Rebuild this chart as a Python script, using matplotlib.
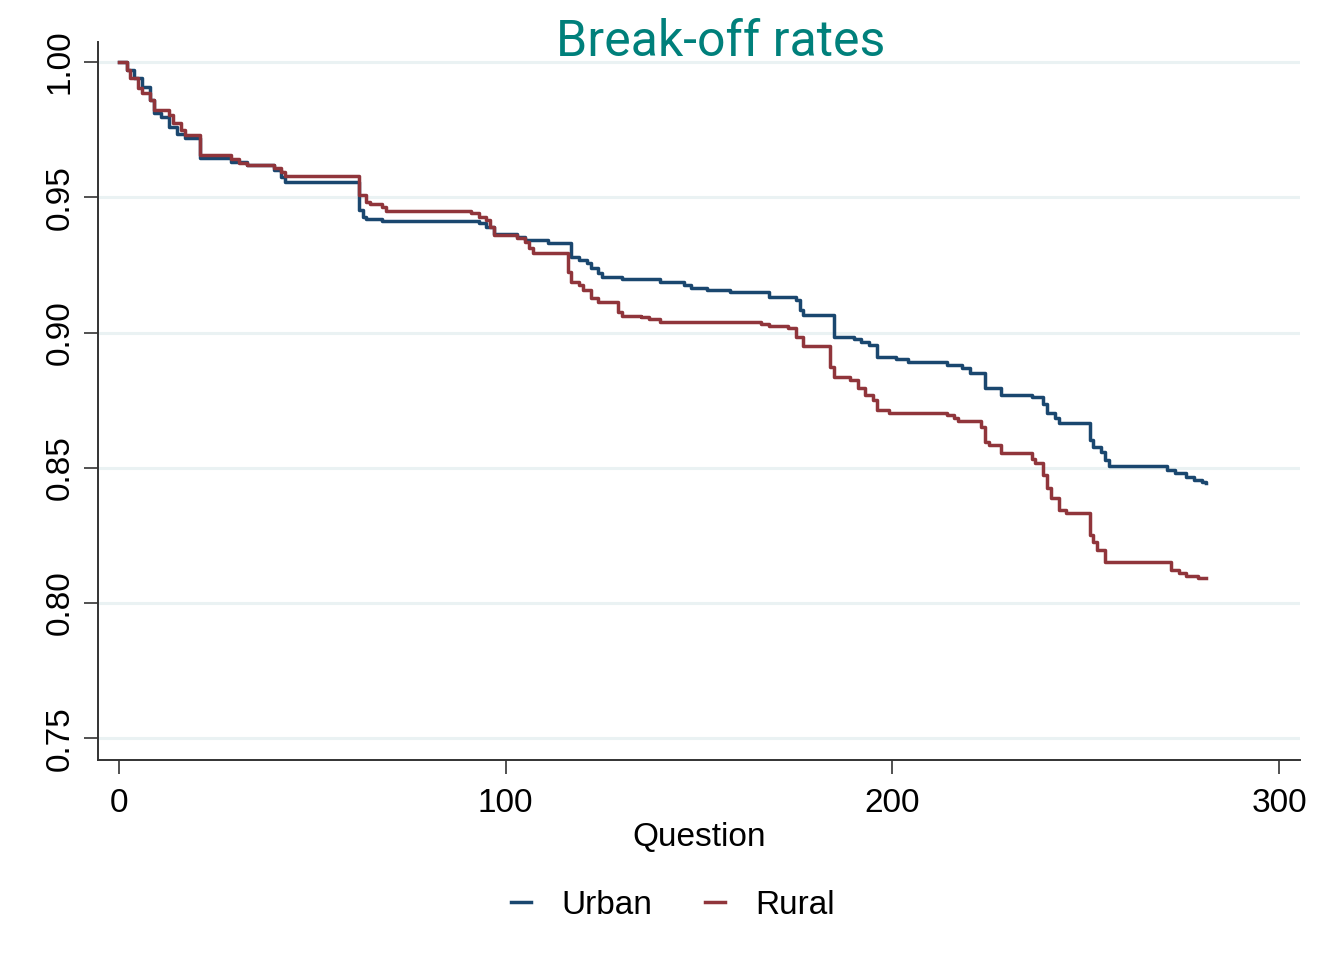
import matplotlib
matplotlib.use("Agg")
import matplotlib.pyplot as plt

# Kaplan-Meier style survival of respondents through the questionnaire
urban_q = [0, 2, 4, 6, 8, 9, 11, 13, 15, 17, 21, 29, 33, 40, 42, 43, 62, 63, 64, 68,
           93, 95, 97, 103, 105, 111, 117, 119, 121, 122, 124, 125, 130, 140, 146, 148,
           152, 158, 168, 175, 176, 177, 185, 190, 192, 194, 196, 201, 204, 214, 218,
           220, 224, 228, 236, 239, 240, 242, 243, 251, 252, 254, 255, 256, 271, 273,
           276, 278, 280, 281]
urban_s = [1.0, 0.9970, 0.9941, 0.9908, 0.9860, 0.9811, 0.9797, 0.9760, 0.9734, 0.9719,
           0.9645, 0.9630, 0.9619, 0.9601, 0.9575, 0.9556, 0.9453, 0.9427, 0.9420, 0.9412,
           0.9405, 0.9390, 0.9364, 0.9353, 0.9342, 0.9331, 0.9279, 0.9268, 0.9257, 0.9238,
           0.9220, 0.9205, 0.9198, 0.9187, 0.9176, 0.9164, 0.9157, 0.9150, 0.9131, 0.9120,
           0.9083, 0.9065, 0.8983, 0.8976, 0.8965, 0.8954, 0.8909, 0.8902, 0.8891, 0.8880,
           0.8869, 0.8850, 0.8795, 0.8769, 0.8762, 0.8736, 0.8703, 0.8684, 0.8666, 0.8603,
           0.8577, 0.8559, 0.8529, 0.8506, 0.8492, 0.8481, 0.8466, 0.8455, 0.8447, 0.8444]

rural_q = [0, 2, 3, 5, 6, 8, 9, 13, 14, 16, 17, 21, 29, 31, 33, 40, 42, 43, 62, 64, 65,
           68, 69, 91, 93, 95, 96, 97, 103, 105, 106, 107, 116, 117, 119, 120, 122, 124,
           129, 130, 135, 137, 140, 166, 168, 173, 175, 177, 184, 185, 189, 191, 193, 195,
           196, 199, 214, 216, 217, 223, 224, 225, 228, 236, 237, 239, 240, 241, 243, 245,
           251, 252, 253, 255, 272, 274, 276, 279, 281]
rural_s = [1.0, 0.9970, 0.9941, 0.9904, 0.9885, 0.9860, 0.9823, 0.9804, 0.9774, 0.9749,
           0.9730, 0.9656, 0.9641, 0.9627, 0.9619, 0.9608, 0.9593, 0.9579, 0.9508, 0.9482,
           0.9475, 0.9464, 0.9449, 0.9442, 0.9427, 0.9416, 0.9390, 0.9360, 0.9349, 0.9335,
           0.9312, 0.9294, 0.9224, 0.9187, 0.9176, 0.9157, 0.9128, 0.9113, 0.9076, 0.9061,
           0.9057, 0.9050, 0.9039, 0.9031, 0.9024, 0.9017, 0.8983, 0.8950, 0.8872, 0.8835,
           0.8824, 0.8795, 0.8769, 0.8750, 0.8713, 0.8702, 0.8695, 0.8684, 0.8673, 0.8651,
           0.8595, 0.8584, 0.8554, 0.8532, 0.8517, 0.8473, 0.8425, 0.8388, 0.8344, 0.8333,
           0.8251, 0.8225, 0.8196, 0.8152, 0.8122, 0.8111, 0.8100, 0.8092, 0.8092]

x_ticks = [0, 100, 200, 300]
y_ticks = [0.75, 0.80, 0.85, 0.90, 0.95, 1.00]
groups = ["Urban", "Rural"]
colors = ["#1A476F", "#90353B"]

plt.rcParams["font.family"] = ["Liberation Sans", "DejaVu Sans"]

fig = plt.figure(figsize=(13.36, 9.8), dpi=100)
fig.patch.set_facecolor("white")
ax = fig.add_axes([98 / 1336, 1 - 760 / 980, (1300 - 98) / 1336, (760 - 42) / 980])

for q, s, lab, c in [(urban_q, urban_s, groups[0], colors[0]),
                     (rural_q, rural_s, groups[1], colors[1])]:
    ax.plot(q, s, drawstyle="steps-post", color=c, lw=2.5, label=lab)

ax.set_xlim(-5.4, 305.4)
ax.set_ylim(0.742, 1.0074)
ax.set_xticks(x_ticks)
ax.set_yticks(y_ticks)
ax.set_yticklabels([f"{v:.2f}" for v in y_ticks], rotation=90, va="center")
ax.tick_params(axis="both", labelsize=24, length=10, width=1.2, color="#333333")
ax.tick_params(axis="y", pad=6)
ax.tick_params(axis="x", pad=10)
ax.grid(axis="y", color="#EAF2F3", lw=2.2)
ax.set_axisbelow(True)
for side in ["top", "right"]:
    ax.spines[side].set_visible(False)
for side in ["left", "bottom"]:
    ax.spines[side].set_color("#333333")
    ax.spines[side].set_linewidth(1.4)

ax.set_xlabel("Question", fontsize=24, labelpad=2)

fig.text(721 / 1336, 1 - 42 / 980, "Break-off rates", color="#00807B",
         fontsize=36, family=["Roboto", "DejaVu Sans"], ha="center", va="center")

fig.legend(loc="center", bbox_to_anchor=(673 / 1336, 1 - 905 / 980), ncol=2,
           frameon=False, fontsize=24, handlelength=0.6, handletextpad=0.9,
           columnspacing=1.6)

fig.savefig("out.png", dpi=100)
